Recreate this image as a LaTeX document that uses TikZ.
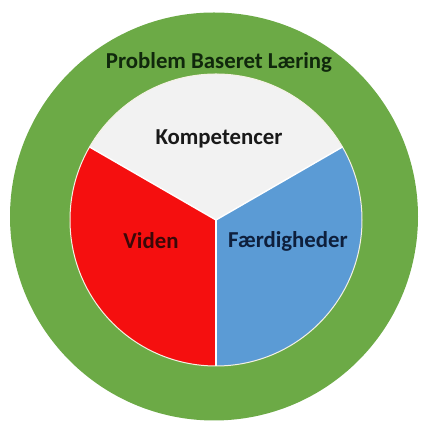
\documentclass[tikz,border=0pt]{standalone}
\usepackage{fontspec}
\setmainfont{Carlito}
\usetikzlibrary{calc}
\definecolor{pbgreen}{HTML}{6CAA46}
\definecolor{komgray}{HTML}{F2F2F2}
\definecolor{vidred}{HTML}{F50F0F}
\definecolor{faerblue}{HTML}{5B9BD5}
\definecolor{pbtext}{HTML}{10280C}
\definecolor{vidtext}{HTML}{3A0808}
\definecolor{faertext}{HTML}{0E1F3C}
\definecolor{rimcol}{HTML}{F4F1E4}
\tikzset{
  lbl/.style={font=\fontsize{22.8}{27}\selectfont\bfseries, inner sep=0pt},
  sep/.style={draw=white, line width=1.4pt},
}
\begin{document}
\begin{tikzpicture}[x=1pt,y=1pt]
\useasboundingbox (0,0) rectangle (424,422);
\fill[white] (0,0) rectangle (424,422);
\node[circle, fill=pbgreen, minimum size=408pt, inner sep=0pt] (outer) at (214,205.5) {};
\coordinate (c) at (216,202);
\fill[komgray] (c) -- ++(30:146) arc[start angle=30, end angle=150, radius=146] -- cycle;
\fill[vidred] (c) -- ++(150:146) arc[start angle=150, end angle=270, radius=146] -- cycle;
\fill[faerblue] (c) -- ++(270:146) arc[start angle=270, end angle=390, radius=146] -- cycle;
\draw[rimcol, line width=1pt] (c) circle[radius=146];
\coordinate (ul) at ($(c)+(150:146)$);
\coordinate (ur) at ($(c)+(30:146)$);
\coordinate (bt) at ($(c)+(270:146)$);
\draw[sep] (c) -- (ul);
\draw[sep] (c) -- (ur);
\draw[sep] (c) -- (bt);
\node[lbl, text=pbtext] (pbl) at (219,360) {Problem Baseret Læring};
\node[lbl, text=black!90] (kom) at (219,283) {Kompetencer};
\node[lbl, text=vidtext] (vid) at (151,181) {Viden};
\node[lbl, text=faertext] (faer) at (288,181) {Færdigheder};
\end{tikzpicture}
\end{document}
